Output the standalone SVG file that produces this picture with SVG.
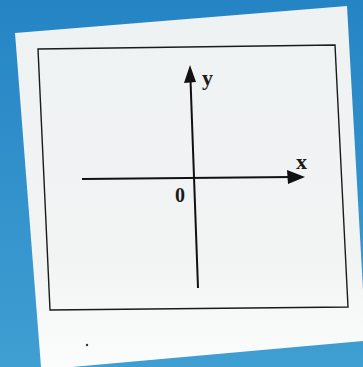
<svg xmlns="http://www.w3.org/2000/svg" width="363" height="367" viewBox="0 0 363 367">
  <defs>
    <linearGradient id="bg" x1="0" y1="0" x2="0" y2="1">
      <stop offset="0" stop-color="#2584c4"/>
      <stop offset="1" stop-color="#3f9fd2"/>
    </linearGradient>
    <linearGradient id="paper" x1="0" y1="0" x2="0" y2="1">
      <stop offset="0" stop-color="#eff2f3"/>
      <stop offset="0.7" stop-color="#f2f4f4"/>
      <stop offset="1" stop-color="#fbfcfc"/>
    </linearGradient>
    <style>
      .ln{stroke:#1a1a1a;fill:none;stroke-linecap:round}
      .ax{stroke:#111;stroke-width:2;fill:none}
      .lbl{font-family:"Liberation Serif","DejaVu Serif",serif;font-weight:bold;fill:#1a1a1a}
    </style>
  </defs>
  <rect width="363" height="367" fill="url(#bg)"/>
  <g id="paper">
    <polygon points="15,33 347,6 363,290 363,341 72,367 41,367" fill="url(#paper)"/>
  </g>
  <g id="frame">
    <polygon class="ln" stroke-width="1.4" points="38,49 335,45 348,307 50,310"/>
  </g>
  <g id="connectors">
    <g id="y-axis">
      <line class="ax" x1="190.5" y1="80" x2="198" y2="288"/>
      <polygon points="190,65 184,83 196,82" fill="#111"/>
    </g>
    <g id="x-axis">
      <line class="ax" x1="82" y1="179" x2="292" y2="177"/>
      <polygon points="305,177 287,170 288,184" fill="#111"/>
    </g>
  </g>
  <g id="labels">
    <text class="lbl" x="202" y="85" font-size="22">y</text>
    <text class="lbl" x="296" y="169" font-size="22">x</text>
    <text class="lbl" x="175" y="202" font-size="20">0</text>
  </g>
  <circle cx="87" cy="345" r="1.2" fill="#333"/>
</svg>
